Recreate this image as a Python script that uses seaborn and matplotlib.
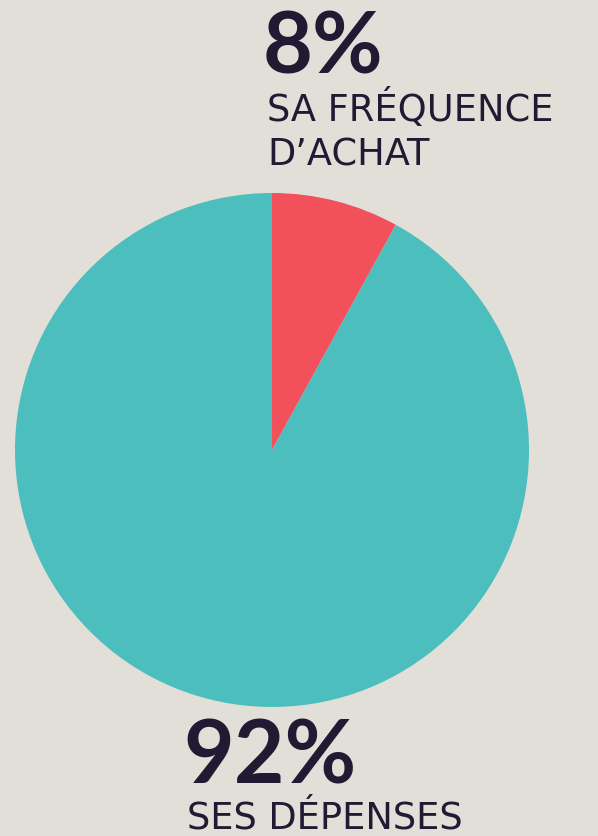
import matplotlib
matplotlib.use("Agg")
import matplotlib.pyplot as plt
import seaborn as sns

labels = ["SA FRÉQUENCE\nD’ACHAT", "SES DÉPENSES"]
values = [8, 92]
pct_labels = ["8%", "92%"]
colors = ["#F2515B", "#4CBEBD"]

BG = "#E2DFD9"
INK = "#221A33"
W, H = 598, 837

sns.set_theme(style="white")
plt.rcParams["font.family"] = ["Lato", "DejaVu Sans"]

fig = plt.figure(figsize=(W / 100, H / 100), dpi=100, facecolor=BG)
ax = fig.add_axes([15 / W, 1 - 708 / H, 514 / W, 514 / H])
ax.set_facecolor(BG)
ax.pie(values, colors=colors, startangle=90, counterclock=False,
       radius=1, wedgeprops={"linewidth": 0})
ax.set_xlim(-1, 1)
ax.set_ylim(-1, 1)
ax.set_aspect("equal")
ax.axis("off")

def px(x, y):
    return x / W, 1 - y / H

sub_font = {"family": ["DejaVu Sans"], "fontsize": 26.5, "color": INK, "va": "baseline"}

# top label (small slice)
fig.text(*px(263, 73), pct_labels[0], fontsize=62, fontweight="bold", color=INK, va="baseline")
fig.text(*px(267, 121), labels[0].split("\n")[0], **sub_font)
fig.text(*px(267, 165), labels[0].split("\n")[1], **sub_font)

# bottom label (large slice)
fig.text(*px(183, 784), pct_labels[1], fontsize=63, fontweight="bold", color=INK, va="baseline")
fig.text(*px(187, 829), labels[1], **sub_font)

fig.savefig("out.png", dpi=100, facecolor=BG)
